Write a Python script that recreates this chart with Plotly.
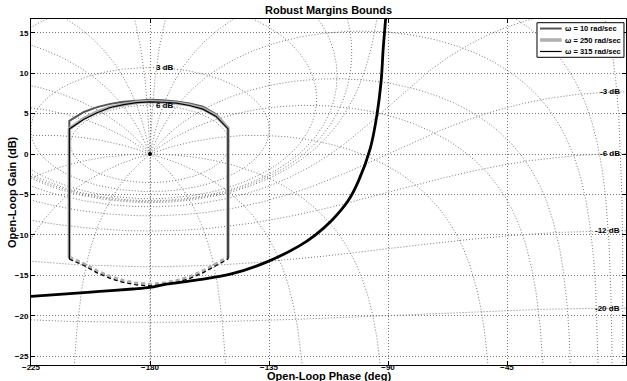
import numpy as np
import plotly.graph_objects as go

# ---------------- data ----------------
# open-loop response (Nichols curve)
loop_phase = [-225, -211.6, -199, -186.5, -180, -173.9, -161.4, -148.9, -136.2, -123.7,
              -117.4, -111.2, -104.9, -101.1, -96.7, -94.2, -92.6, -91.8, -90.9, -90.4]
loop_gain = [-17.6, -17.3, -17.0, -16.7, -16.5, -16.1, -15.55, -14.8, -13.4, -11.4,
             -10.0, -8.2, -5.7, -3.3, 0.7, 4.8, 9.0, 13.1, 16.7, 19.0]

# robust margin bounds
bound_names = ["ω = 10 rad/sec", "ω = 250 rad/sec", "ω = 315 rad/sec"]
top_phase = [-210.5, -205, -200, -195, -190, -185, -180, -175, -170, -165, -160, -155, -150.5]
top_gain_10 = [4.1, 5.2, 5.8, 6.2, 6.45, 6.6, 6.7, 6.65, 6.5, 6.25, 5.85, 4.9, 3.3]
top_gain_250 = [3.1, 4.4, 5.2, 5.8, 6.15, 6.4, 6.5, 6.45, 6.3, 6.05, 5.6, 4.7, 3.2]
top_gain_315 = [3.1, 4.3, 5.1, 5.75, 6.1, 6.35, 6.45, 6.4, 6.3, 6.0, 5.55, 4.65, 3.1]
bot_phase = [-210.5, -205, -200, -195, -190, -185, -180, -175, -170, -165, -160, -155, -150.5]
bot_gain_10 = [-12.9, -13.7, -14.6, -15.3, -15.8, -16.1, -16.2, -16.1, -15.8, -15.3, -14.6, -13.7, -12.9]
bot_gain_250 = [-12.8, -13.6, -14.5, -15.2, -15.7, -16.0, -16.15, -16.0, -15.7, -15.2, -14.5, -13.6, -12.8]
bot_gain_315 = [-13.0, -13.8, -14.7, -15.4, -15.9, -16.2, -16.3, -16.2, -15.9, -15.4, -14.7, -13.8, -13.0]

# Nichols grid (closed-loop gain in dB, closed-loop phase in deg)
ngrid_gains_db = [6, 3, 1, 0.5, 0.25, 0, -1, -3, -6, -12, -20, -40]
ngrid_phases = [1, 5, 10, 20, 30, 50, 90, 120, 150, 180]

x_ticks = [-225, -180, -135, -90, -45, 0]
y_ticks = [-25, -20, -15, -10, -5, 0, 5, 10, 15]
x_range = [-225, 0]
y_range = [-26.1, 16.7]

FONT = "Liberation Sans, Arial, sans-serif"
GRID = "rgb(120,120,120)"
DOT = "1px,2px"

fig = go.Figure()


def wrap(ph):
    ph = np.asarray(ph)
    return np.where(ph > 0, ph - 360, ph)


# iso-gain contours
for g in ngrid_gains_db:
    M = 10 ** (g / 20)
    if abs(M - 1) < 1e-12:
        ph = np.linspace(-269.5, -90.5, 1500)
        a = -0.5 / np.cos(np.radians(ph))
        gd = 20 * np.log10(a)
    elif M < 1:
        ph = np.linspace(-360, 0, 2000)
        c = np.cos(np.radians(ph))
        a = (M ** 2 * c + np.sqrt(M ** 4 * c ** 2 + M ** 2 * (1 - M ** 2))) / (1 - M ** 2)
        gd = 20 * np.log10(a)
    else:
        th = np.linspace(0, -2 * np.pi, 2000)
        T = M * np.exp(1j * th)
        L = T / (1 - T)
        ph = wrap(np.degrees(np.angle(L)))
        gd = 20 * np.log10(np.abs(L))
    fig.add_trace(go.Scatter(x=ph, y=gd, mode="lines", showlegend=False, hoverinfo="skip",
                             line=dict(color=GRID, width=1, dash=DOT)))

# iso-phase contours
Ms = np.logspace(-3, 3, 2500)
for p in ngrid_phases:
    for th_deg in sorted({-p, -(360 - p)}):
        T = Ms * np.exp(1j * np.radians(th_deg))
        L = T / (1 - T)
        ph = wrap(np.round(np.degrees(np.angle(L)), 9))
        gd = 20 * np.log10(np.abs(L))
        fig.add_trace(go.Scatter(x=ph, y=gd, mode="lines", showlegend=False, hoverinfo="skip",
                                 line=dict(color=GRID, width=1, dash=DOT)))

# grid labels
ann = []
for g in ngrid_gains_db:
    M = 10 ** (g / 20)
    if M > 1:
        yl = 20 * np.log10(M / (M - 1))
        if y_range[0] < yl < y_range[1]:
            ann.append(dict(x=-178.5, y=yl, text=f"{g:g} dB", xanchor="left", yanchor="middle",
                            showarrow=False, font=dict(size=8, family=FONT, color="black", weight="bold")))
    elif M < 1:
        yl = 20 * np.log10(M / (1 - M))
        if y_range[0] < yl < y_range[1]:
            ann.append(dict(x=-1.5, y=yl, text=f"{g:g} dB", xanchor="right", yanchor="middle",
                            showarrow=False, font=dict(size=8, family=FONT, color="black", weight="bold")))

# critical point
fig.add_trace(go.Scatter(x=[-180], y=[0], mode="markers", showlegend=False, hoverinfo="skip",
                         marker=dict(color="black", size=4)))

# bounds
styles = [dict(color="rgb(85,85,85)", width=2),
          dict(color="rgb(175,175,175)", width=3.5),
          dict(color="black", width=1.2)]
tops = [top_gain_10, top_gain_250, top_gain_315]
bots = [bot_gain_10, bot_gain_250, bot_gain_315]
for name, st, tg, bg in zip(bound_names, styles, tops, bots):
    xs = [bot_phase[0]] + top_phase + [bot_phase[-1]]
    ys = [bg[0]] + tg + [bg[-1]]
    fig.add_trace(go.Scatter(x=xs, y=ys, mode="lines", name=name, legendgroup=name, showlegend=False,
                             line=dict(color=st["color"], width=st["width"])))
    fig.add_trace(go.Scatter(x=bot_phase, y=bg, mode="lines", showlegend=False, legendgroup=name,
                             line=dict(color=st["color"], width=st["width"], dash="4px,3px")))

# open-loop curve
fig.add_trace(go.Scatter(x=loop_phase, y=loop_gain, mode="lines", showlegend=False,
                         line=dict(color="black", width=2.8), line_shape="spline"))

# legend box (drawn compactly, as in the original)
shapes = [dict(type="rect", xref="paper", yref="paper", x0=0.8504, x1=0.9966, y0=0.8893, y1=0.9893,
               line=dict(color="black", width=1), fillcolor="white", layer="above")]
row_y = [0.9725, 0.9393, 0.9061]
for name, st, ry in zip(bound_names, styles, row_y):
    shapes.append(dict(type="line", xref="paper", yref="paper", x0=0.8555, x1=0.8920, y0=ry, y1=ry,
                       line=dict(color=st["color"], width=st["width"]), layer="above"))
    ann.append(dict(x=0.8945, y=ry, xref="paper", yref="paper", text=name, showarrow=False,
                    xanchor="left", yanchor="middle",
                    font=dict(size=7.5, family=FONT, color="black", weight="bold")))

ann.append(dict(x=0.5, y=0, xref="paper", yref="paper", yshift=-10.5, text="Open-Loop Phase (deg)",
                showarrow=False, xanchor="center", yanchor="middle",
                font=dict(size=11, family=FONT, color="black", weight="bold")))
ann.append(dict(x=-0.032, y=0.5, xref="paper", yref="paper", text="Open-Loop Gain (dB)",
                showarrow=False, textangle=-90, xanchor="center", yanchor="middle",
                font=dict(size=11, family=FONT, color="black", weight="bold")))

fig.update_layout(
    width=627, height=381,
    margin=dict(l=31, r=1, t=19, b=16),
    paper_bgcolor="white", plot_bgcolor="white",
    title=dict(text="Robust Margins Bounds", x=0.524, xanchor="center", y=0.973, yanchor="middle",
               font=dict(size=11, family=FONT, color="black", weight="bold")),
    annotations=ann,
    shapes=shapes,
    showlegend=False,
)
axis_common = dict(showline=True, linecolor="black", linewidth=1, mirror="ticks",
                   ticks="inside", ticklen=4, tickcolor="black", showgrid=True,
                   gridcolor=GRID, griddash=DOT, gridwidth=1, zeroline=False,
                   tickfont=dict(size=8, family=FONT, color="black", weight="bold"))
fig.update_xaxes(range=x_range, tickvals=x_ticks, ticklabelstandoff=-6, **axis_common)
fig.update_yaxes(range=y_range, tickvals=y_ticks, **axis_common)

fig.write_html("out.html", config={"displayModeBar": False},
               post_script="document.body.style.margin='0';")
